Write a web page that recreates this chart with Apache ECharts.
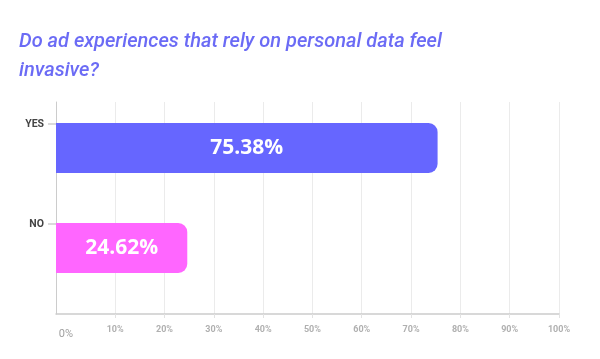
<!DOCTYPE html>
<html>
<head>
<meta charset="utf-8">
<script src="https://cdn.jsdelivr.net/npm/echarts@6/dist/echarts.min.js"></script>
<style>html,body{margin:0;padding:0;background:#fff}#c{width:600px;height:359px}</style>
</head>
<body>
<div id="c"></div>
<script>
const titleText = 'Do ad experiences that rely on personal data feel\ninvasive?';
const categories = ['YES', 'NO'];
const values = [75.38, 24.62];
const barColors = ['#6666ff', '#ff66ff'];
const labelValues = [0, 10, 20, 30, 40, 50, 60, 70, 80, 90, 100];
const gridValues = [10, 20, 30, 40, 50, 60, 70, 80, 90, 100];

const chart = echarts.init(document.getElementById('c'), null, {renderer: 'canvas'});
chart.setOption({
  animation: false,
  backgroundColor: '#fff',
  title: {
    text: titleText,
    left: 14,
    top: 22,
    textStyle: {
      fontFamily: 'Roboto',
      fontStyle: 'italic',
      fontWeight: 500,
      fontSize: 20,
      lineHeight: 29,
      color: '#6b6bf5'
    }
  },
  grid: [
    {left: 56, right: 41, top: 98, height: 200},
    {left: 56, right: 41, top: 102, bottom: 45}
  ],
  xAxis: [
    {
      gridIndex: 0,
      type: 'value',
      min: -2,
      max: 100,
      startValue: -2,
      show: false,
      splitLine: {show: false}
    },
    {
      gridIndex: 1,
      type: 'value',
      min: -2,
      max: 100,
      axisLine: {show: true, onZero: false, lineStyle: {color: '#cccccc', width: 1.5}},
      axisTick: {show: true, customValues: gridValues, length: 4, lineStyle: {color: '#e2e2e2'}},
      splitLine: {show: true, lineStyle: {color: '#ebebeb', width: 1}},
      axisLabel: {
        customValues: labelValues,
        margin: 11,
        color: '#b0b0b0',
        fontFamily: 'Roboto',
        fontWeight: 'bold',
        fontSize: 9,
        formatter: v => v === 0 ? '{z|0%}' : v + '%',
        rich: {z: {fontSize: 11, color: '#a0a0a0', fontWeight: 'normal', fontFamily: 'Roboto', padding: [4, 0, 0, 0]}}
      }
    }
  ],
  yAxis: [
    {
      gridIndex: 0,
      type: 'category',
      inverse: true,
      data: categories,
      axisLine: {show: false},
      axisTick: {show: false},
      splitLine: {show: false},
      axisLabel: {
        margin: 0,
        padding: [0, 0, 48, 0],
        formatter: v => '{n|' + v + '}{t|}',
        rich: {
          n: {fontFamily: 'Roboto', fontWeight: 'bold', fontSize: 10.5, color: '#444444', padding: [0, 4, 0, 0]},
          t: {width: 8, height: 1, backgroundColor: '#b5b5b5'}
        }
      }
    },
    {
      gridIndex: 1,
      type: 'value',
      axisLine: {show: true, onZero: false, lineStyle: {color: '#cccccc', width: 1}},
      axisTick: {show: false},
      axisLabel: {show: false},
      splitLine: {show: false}
    }
  ],
  series: [{
    type: 'bar',
    xAxisIndex: 0,
    yAxisIndex: 0,
    barWidth: 50,
    z: 3,
    data: values.map((v, i) => ({value: v, itemStyle: {color: barColors[i]}})),
    itemStyle: {borderRadius: [0, 9, 9, 0]},
    label: {
      show: true,
      position: 'inside',
      formatter: p => p.value.toFixed(2) + '%',
      color: '#ffffff',
      fontFamily: 'Open Sans',
      fontWeight: 'bold',
      fontSize: 21
    }
  }]
});
</script>
</body>
</html>
